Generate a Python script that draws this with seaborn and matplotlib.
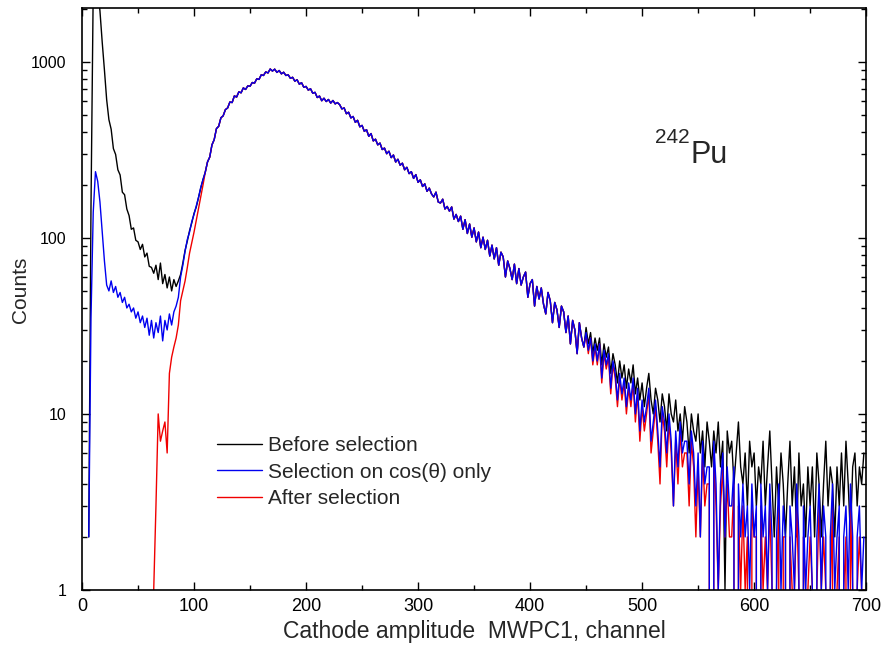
import numpy as np
import pandas as pd
import matplotlib
matplotlib.use("Agg")
import matplotlib.pyplot as plt
import matplotlib.ticker as mticker
from matplotlib import font_manager
from matplotlib.lines import Line2D
import seaborn as sns

# ---------------- data (counts per channel) ----------------
low_channels = list(range(6, 110, 2))       # 6..108
red_low_channels = list(range(62, 110, 2))  # 62..108
common_channels = list(range(110, 450, 2))  # 110..448
tail_channels = list(range(450, 700, 2))    # 450..698

black_low = [2, 150, 2600, 3500, 2600, 1950, 1300, 900, 610, 470, 415, 322, 298, 244, 228,
             182, 176, 146, 134, 112, 114, 97, 95, 86, 92, 78, 82, 69, 68, 63, 70, 58, 72,
             55, 62, 52, 60, 50, 58, 53, 57, 62, 72, 85, 96, 110, 122, 138, 150, 170, 192, 215]
blue_low = [2, 35, 140, 238, 210, 160, 108, 74, 54, 50, 57, 49, 53, 46, 49, 43, 46, 40, 42,
            38, 40, 35, 38, 33, 36, 31, 35, 28, 34, 27, 33, 29, 36, 26, 34, 30, 37, 32, 38,
            41, 46, 60, 70, 84, 98, 108, 124, 136, 152, 170, 194, 214]
red_low = [0, 1, 3, 10, 7, 8, 9, 6, 17, 21, 24, 27, 32, 44, 50, 57, 68, 82, 94, 108, 126,
           148, 172, 200]

common_counts = [
    236, 270, 288, 338, 362, 418, 431, 482, 494, 536,
    548, 592, 588, 641, 632, 676, 668, 712, 698, 731,
    728, 764, 758, 802, 796, 845, 838, 878, 866, 912,
    888, 910, 872, 894, 856, 874, 838, 846, 808, 818,
    778, 792, 748, 762, 718, 726, 692, 704, 664, 672,
    628, 640, 602, 622, 596, 612, 584, 604, 578, 588,
    572, 541, 548, 508, 518, 481, 490, 454, 466, 428,
    436, 404, 412, 378, 392, 356, 364, 338, 346, 318,
    324, 301, 311, 286, 296, 270, 280, 259, 266, 244,
    252, 232, 238, 218, 229, 207, 214, 196, 203, 184,
    192, 178, 171, 182, 160, 158, 166, 146, 151, 142,
    150, 128, 136, 124, 133, 112, 127, 106, 120, 101,
    114, 95, 108, 88, 101, 86, 97, 79, 91, 76,
    88, 70, 83, 78, 60, 74, 67, 58, 71, 55,
    67, 54, 60, 64, 46, 55, 58, 41, 53, 45,
    52, 42, 37, 49, 44, 33, 43, 39, 31, 41,
    38, 29, 36, 25, 34, 30, 22, 33, 27, 24,
]

black_tail = [31, 25, 29, 22, 27, 23, 27, 19, 25, 21, 24, 17, 22, 19, 15, 20, 16, 19, 14, 18,
              15, 19, 13, 16, 12, 15, 11, 14, 17, 12, 10, 14, 12, 9, 13, 11, 8, 13, 10, 9,
              12, 8, 10, 7, 11, 9, 6, 10, 8, 7, 10, 6, 8, 5, 9, 7, 5, 8, 6, 9,
              5, 7, 1, 8, 6, 7, 4, 6, 9, 5, 4, 6, 3, 7, 5, 6, 3, 5, 4, 7,
              3, 5, 8, 4, 2, 5, 3, 6, 4, 2, 4, 7, 3, 5, 2, 6, 3, 4, 2, 5,
              3, 5, 2, 6, 4, 2, 4, 7, 3, 5, 4, 2, 5, 3, 6, 3, 7, 4, 2, 5,
              6, 3, 5, 4, 6]
blue_tail = [29, 23, 27, 20, 25, 20, 25, 16, 23, 19, 22, 14, 20, 17, 12, 17, 13, 16, 11, 15,
             12, 16, 10, 14, 8, 12, 9, 11, 14, 7, 9, 12, 8, 5, 11, 9, 6, 10, 7, 3,
             8, 5, 9, 6, 7, 7, 4, 8, 6, 3, 6, 2, 7, 4, 5, 5, 0, 7, 4, 1,
             4, 6, 2, 5, 3, 3, 5, 0, 4, 2, 4, 2, 3, 1, 4, 2, 3, 0, 4, 2,
             3, 1, 4, 2, 0, 2, 4, 1, 3, 2, 0, 3, 2, 1, 4, 2, 0, 3, 1, 2,
             3, 1, 0, 2, 4, 1, 3, 2, 0, 2, 4, 1, 2, 3, 0, 2, 3, 1, 4, 2,
             0, 2, 3, 1, 2]
red_tail = [28, 22, 27, 19, 24, 19, 25, 15, 22, 18, 21, 13, 19, 16, 11, 16, 12, 15, 10, 14,
            11, 15, 9, 13, 7, 11, 8, 10, 13, 6, 8, 11, 7, 4, 10, 8, 5, 9, 6, 3,
            7, 4, 8, 5, 6, 6, 3, 7, 5, 2, 5, 2, 6, 3, 4, 4, 0, 6, 3, 1,
            3, 5, 2, 4, 2, 2, 4, 0, 3, 1, 3, 1, 2, 0, 3, 2, 2, 0, 3, 1,
            2, 1, 3, 1, 0, 1, 3, 0, 2, 2, 0, 2, 1, 1, 3, 1, 0, 2, 1, 1,
            2, 1, 0, 1, 3, 1, 2, 1, 0, 1, 3, 0, 1, 2, 0, 1, 2, 0, 3, 1,
            0, 1, 2, 1, 1]

series_labels = ["Before selection", "Selection on cos(\u03b8) only", "After selection"]
series_colors = ["#000000", "#0000F0", "#F00000"]
x_ticks = [0, 100, 200, 300, 400, 500, 600, 700]
y_ticks = [1, 10, 100, 1000]
y_tick_labels = ["1", "10", "100", "1000"]

# ---------------- build tables ----------------
black_df = pd.DataFrame({"channel": low_channels + common_channels + tail_channels,
                         "counts": black_low + common_counts + black_tail})
blue_df = pd.DataFrame({"channel": low_channels + common_channels + tail_channels,
                        "counts": blue_low + common_counts + blue_tail})
red_df = pd.DataFrame({"channel": red_low_channels + common_channels + tail_channels,
                       "counts": red_low + common_counts + red_tail})

# ---------------- figure ----------------
sns.set_style("ticks")
plt.rcParams["font.family"] = ["Liberation Sans", "DejaVu Sans"]

installed = {f.name for f in font_manager.fontManager.ttflist}
narrow = "Liberation Sans Narrow" in installed

fig = plt.figure(figsize=(8.82, 6.54), dpi=100)
ax = fig.add_axes([0.093, 0.098, 0.889, 0.890])

lw = 1.0
sns.lineplot(data=black_df, x="channel", y="counts", color=series_colors[0], lw=lw,
             estimator=None, sort=False, ax=ax)
sns.lineplot(data=red_df, x="channel", y="counts", color=series_colors[2], lw=lw,
             estimator=None, sort=False, ax=ax)
sns.lineplot(data=blue_df, x="channel", y="counts", color=series_colors[1], lw=lw,
             estimator=None, sort=False, ax=ax)

ax.set_yscale("log", nonpositive="clip")
ax.set_xlim(0, 700)
ax.set_ylim(1, 2030)

ax.set_xticks(x_ticks)
ax.xaxis.set_minor_locator(mticker.MultipleLocator(50))
ax.set_yticks(y_ticks)
if narrow:
    ax.set_yticklabels(y_tick_labels, fontsize=13, family="Liberation Sans Narrow")
else:
    ax.set_yticklabels(y_tick_labels, fontsize=11.5)
ax.yaxis.set_minor_locator(mticker.LogLocator(base=10, subs=np.arange(2, 10)))
ax.yaxis.set_minor_formatter(mticker.NullFormatter())

ax.tick_params(which="both", direction="in", top=True, right=True, width=1.0, colors="black")
ax.tick_params(which="major", length=6)
ax.tick_params(which="minor", length=3.5)
ax.tick_params(axis="x", which="major", labelsize=13, pad=6)
ax.tick_params(axis="y", which="major", pad=11)
for s in ax.spines.values():
    s.set_visible(True)
    s.set_linewidth(1.2)
    s.set_color("black")

ax.set_xlabel("Cathode amplitude  MWPC1, channel", fontsize=16.5)
ax.xaxis.set_label_coords(0.5, -0.052)
ax.set_ylabel("Counts", fontsize=15)
ax.yaxis.set_label_coords(-0.066, 0.515)

handles = [Line2D([], [], color=c, lw=1.0) for c in series_colors]
ax.legend(handles, series_labels, loc="upper left", bbox_to_anchor=(0.161, 0.279),
          frameon=False, fontsize=15, handlelength=2.2, handletextpad=0.25,
          labelspacing=0.37, borderaxespad=0)

ax.text(0.731, 0.768, "242", transform=ax.transAxes, fontsize=15, ha="left", va="baseline")
ax.text(0.7755, 0.734, "Pu", transform=ax.transAxes, fontsize=22, ha="left", va="baseline")

fig.savefig("out.png", dpi=100)
